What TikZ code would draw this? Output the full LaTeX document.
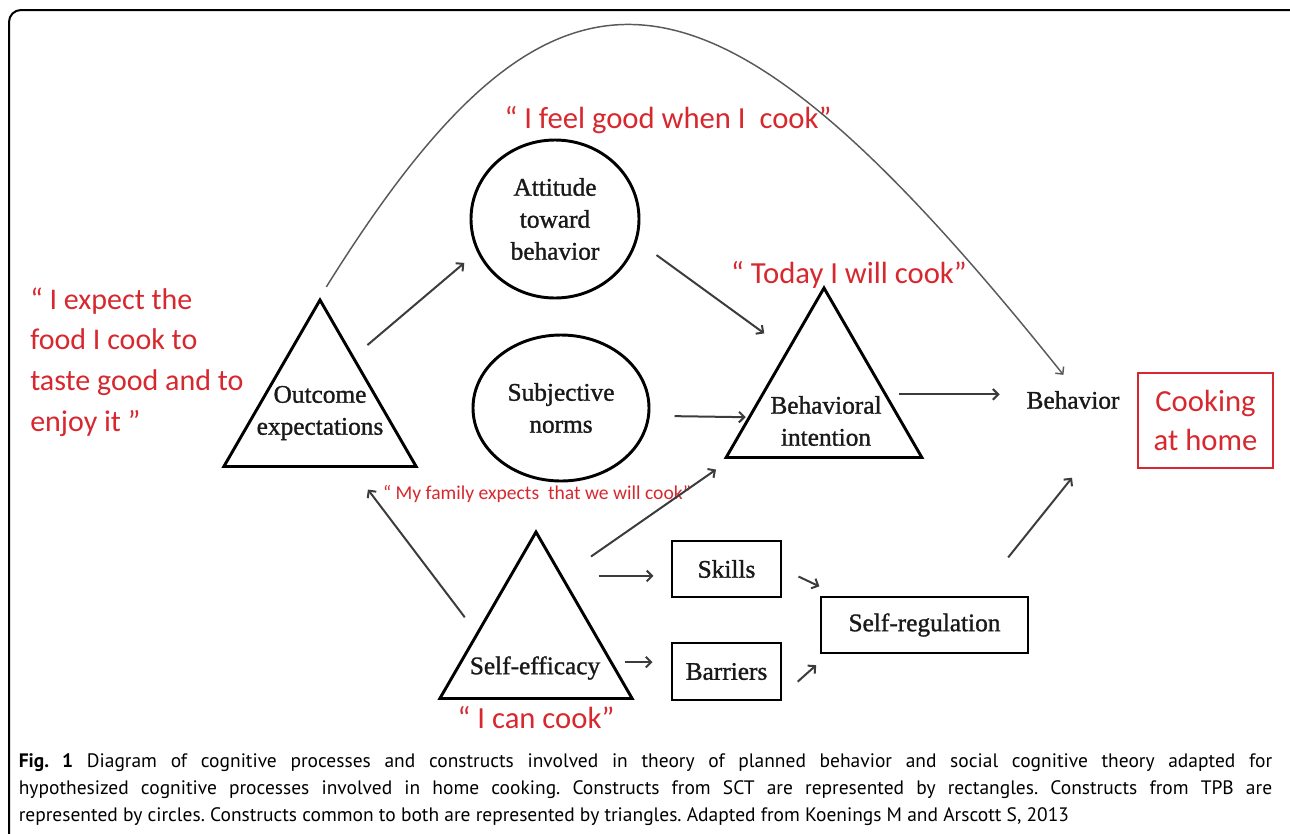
\documentclass[tikz,border=0pt]{standalone}
\usepackage{fontspec}
\setmainfont{Liberation Serif}
\newfontfamily\labelfont[FakeBold=1.2]{Liberation Serif}
\newfontfamily\quotefont{Carlito}
\newfontfamily\captionfont{PT Sans}
\usetikzlibrary{shapes.geometric,arrows.meta}
\definecolor{quotered}{RGB}{214,40,46}
\definecolor{arrowgray}{RGB}{60,60,60}
\frenchspacing

\begin{document}
\begin{tikzpicture}[x=0.75pt, y=-0.75pt]
    \tikzstyle{tri_style} = [draw, line width=2.2pt, regular polygon, regular polygon sides=3, inner sep=0pt]
    \tikzstyle{oval_style} = [draw, line width=2.2pt, ellipse, inner sep=0pt, align=center, text=black!90, font=\labelfont\fontsize{19}{24}\selectfont]
    \tikzstyle{box_style} = [draw, line width=2.2pt, rectangle, inner sep=0pt, text=black!90, font=\labelfont\fontsize{19}{24}\selectfont]
    \tikzstyle{text_style} = [align=center, text=black!90, font=\labelfont\fontsize{19}{24}\selectfont]
    \tikzstyle{quote_style} = [text=quotered, inner sep=0pt, font=\quotefont\fontsize{23}{30}\selectfont]
    \tikzstyle{arrow_style1} = [arrowgray, line width=1.5pt, -{Straight Barb[length=4pt,width=8pt]}]
    \tikzstyle{arrow_style2} = [arrowgray!85, line width=1.1pt, -{Straight Barb[length=4pt,width=8pt]}]

    \useasboundingbox (0,0) rectangle (1290,833);
    \clip (0,0) rectangle (1290,833);
    \draw[line width=1.5pt, rounded corners=9pt] (9,10) rectangle (1310,860);

    % the three constructs common to both theories
    \node[tri_style, minimum size=166.5pt] (noe) at (320,411) {};
    \node[tri_style, minimum size=169.5pt] (nbi) at (824,401) {};
    \node[tri_style, minimum size=166.5pt] (nse) at (536,643) {};
    \node[text_style] (loe) at (320,413) {Outcome\\expectations};
    \node[text_style] (lbi) at (826,421) {Behavioral\\intention};
    \node[text_style] (lse) at (535,668) {Self-efficacy};

    % TPB
    \node[oval_style, minimum width=126pt, minimum height=118.5pt] (natt) at (555,219) {Attitude\\toward\\behavior};
    \node[oval_style, minimum width=132pt, minimum height=109.5pt] (nsn) at (561,408) {Subjective\\norms};

    % SCT
    \node[box_style, minimum width=81.75pt, minimum height=42pt] (nsk) at (726.5,569) {Skills};
    \node[box_style, minimum width=81.75pt, minimum height=42.75pt] (nba) at (726.5,671.5) {Barriers};
    \node[box_style, minimum width=155.25pt, minimum height=42pt] (nsr) at (924.5,625) {Self-regulation};

    \node[text_style, inner sep=3pt] (nbeh) at (1073,400) {Behavior};
    \node[draw=quotered, line width=1.1pt, minimum width=101.25pt, minimum height=71.25pt, align=center,
          text=quotered, font=\quotefont\fontsize{23}{29}\selectfont] (ncook) at (1205.5,420.5) {Cooking\\at home};

    % quotes
    \node[quote_style] (qfeel) at (668,120) {“ I feel good when I\ \ cook”};
    \node[quote_style] (qtoday) at (849,275) {“ Today I will cook”};
    \node[quote_style] (qcan) at (536,718) {“ I can cook”};
    \node[quote_style, font=\quotefont\fontsize{14.7}{16}\selectfont] (qfamily) at (537,494) {“ My family expects\ \ that we will cook”};
    \node[quote_style, anchor=west, align=left, font=\quotefont\fontsize{22.5}{30.5}\selectfont] (qexpect) at (30,362)
        {“ I expect the\\food I cook to\\taste good and to\\enjoy it ”};

    % connectors
    \draw[arrow_style1, shorten <=13pt, shorten >=12.6pt] (noe.58) -- (natt.203);
    \draw[arrow_style1, shorten <=17.9pt, shorten >=20.8pt] (natt.345) -- (nbi.126);
    \draw[arrow_style1, shorten <=18.4pt, shorten >=1.5pt] (nsn.355) -- (nbi.192);
    \draw[arrow_style1, shorten <=9pt, shorten >=17pt] (nbi.6) -- (nbi.6 -| nbeh.west);
    \draw[arrow_style2, shorten <=9pt, shorten >=11.5pt] (noe.north) .. controls +(240,-385) and +(-360,-450) .. (nbeh.north);
    \draw[arrow_style1, shorten <=36.6pt, shorten >=62pt] (nsr.29) -- (nbeh.south east);
    \draw[arrow_style1, shorten <=14.3pt, shorten >=20.3pt] (nse.170) -- (noe.299);
    \draw[arrow_style1, shorten <=25.5pt, shorten >=13.9pt] (nse.68) -- (nbi.212);
    \draw[arrow_style1, shorten <=26.7pt, shorten >=12.8pt] (nse.68) -- (nse.68 -| nsk.west);
    \draw[arrow_style1, shorten <=9pt, shorten >=13.5pt] (nse.346) -- (nse.346 -| nba.west);
    \draw[arrow_style1, shorten <=13.3pt, shorten >=16.2pt] (nsk.east) -- (nsr.161);
    \draw[arrow_style1, shorten <=15.3pt, shorten >=12pt] (nba.337) -- (nsr.197);

    % caption
    \node[inner sep=0pt, text width=940pt, align=justify, font=\captionfont\fontsize{14.6}{20.3}\selectfont] (ncap) at (645.5,789.5)
        {\textbf{Fig. 1} Diagram of cognitive processes and constructs involved in theory of planned behavior and social cognitive theory adapted for\linebreak
         hypothesized cognitive processes involved in home cooking. Constructs from SCT are represented by rectangles. Constructs from TPB are\linebreak
         represented by circles. Constructs common to both are represented by triangles. Adapted from Koenings M and Arscott S, 2013};
\end{tikzpicture}
\end{document}
